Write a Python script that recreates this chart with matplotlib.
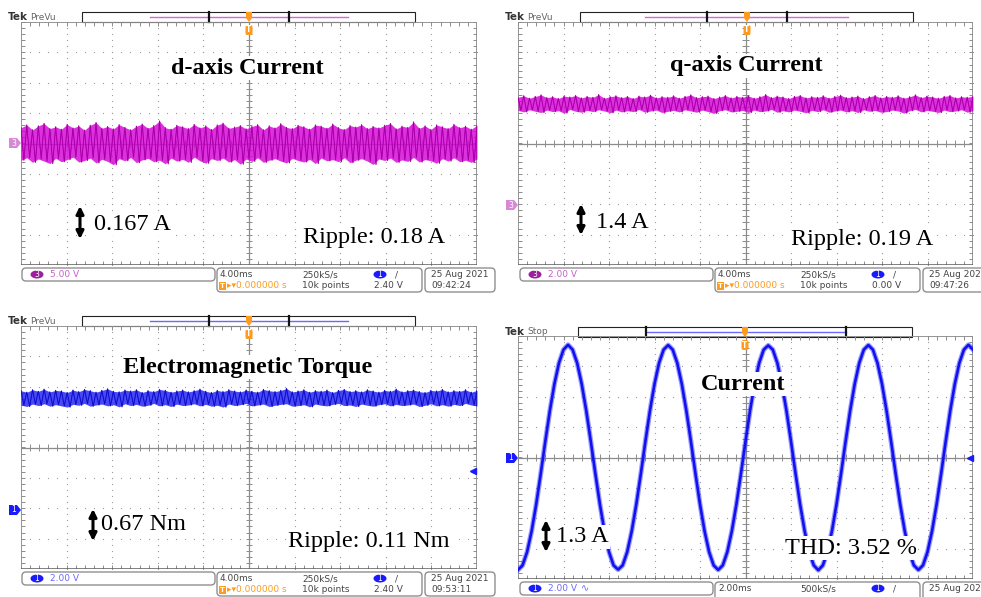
import matplotlib
matplotlib.use('Agg')
import matplotlib.pyplot as plt
import numpy as np
from matplotlib.patches import FancyBboxPatch, Rectangle, Polygon, Ellipse

# ---------------- data (in scope divisions) ----------------
d_level = 0.0
d_upper = [0.52,0.61,0.45,0.58,0.66,0.49,0.55,0.47,0.63,0.51,
           0.58,0.44,0.60,0.69,0.50,0.56,0.48,0.62,0.53,0.45,
           0.57,0.64,0.50,0.59,0.74,0.52,0.47,0.60,0.55,0.49,
           0.63,0.51,0.58,0.46,0.61,0.67,0.50,0.54,0.59,0.48,
           0.56,0.62,0.45,0.58,0.51,0.65,0.53,0.49,0.60,0.55,
           0.47,0.61,0.57,0.50,0.64,0.52,0.46,0.59,0.54,0.62,
           0.49,0.56,0.51,0.60,0.66,0.48,0.57,0.53,0.71,0.50,
           0.58,0.46,0.61,0.55,0.49,0.63,0.52,0.57,0.47,0.60]
d_lower = [-0.55,-0.47,-0.62,-0.51,-0.58,-0.66,-0.49,-0.60,-0.53,-0.45,
           -0.61,-0.56,-0.48,-0.64,-0.52,-0.59,-0.70,-0.50,-0.57,-0.46,
           -0.63,-0.54,-0.49,-0.60,-0.55,-0.67,-0.48,-0.58,-0.52,-0.62,
           -0.45,-0.57,-0.65,-0.50,-0.56,-0.48,-0.61,-0.53,-0.68,-0.51,
           -0.59,-0.47,-0.62,-0.55,-0.50,-0.58,-0.64,-0.49,-0.56,-0.61,
           -0.52,-0.66,-0.48,-0.57,-0.53,-0.60,-0.47,-0.63,-0.55,-0.50,
           -0.58,-0.69,-0.51,-0.56,-0.48,-0.62,-0.54,-0.59,-0.46,-0.61,
           -0.53,-0.57,-0.65,-0.50,-0.58,-0.47,-0.60,-0.55,-0.62,-0.51]

q_level = 1.30
q_upper = [0.22,0.27,0.19,0.25,0.30,0.21,0.24,0.18,0.26,0.23,
           0.28,0.20,0.25,0.22,0.31,0.19,0.24,0.27,0.21,0.25,
           0.18,0.26,0.23,0.29,0.20,0.24,0.22,0.27,0.19,0.25,
           0.30,0.21,0.24,0.26,0.18,0.23,0.28,0.20,0.25,0.22,
           0.27,0.19,0.24,0.31,0.21,0.26,0.23,0.18,0.25,0.28,
           0.20,0.24,0.22,0.27,0.19,0.25,0.29,0.21,0.23,0.26,
           0.18,0.24,0.28,0.20,0.25,0.22,0.27,0.19,0.24,0.30,
           0.21,0.26,0.23,0.19,0.25,0.28,0.20,0.24,0.22,0.26]
q_lower = [-0.21,-0.26,-0.19,-0.24,-0.28,-0.20,-0.25,-0.22,-0.30,-0.18,
           -0.24,-0.27,-0.21,-0.25,-0.19,-0.23,-0.29,-0.20,-0.26,-0.22,
           -0.25,-0.18,-0.27,-0.23,-0.20,-0.28,-0.24,-0.21,-0.26,-0.19,
           -0.23,-0.27,-0.20,-0.25,-0.31,-0.22,-0.19,-0.26,-0.24,-0.21,
           -0.28,-0.20,-0.25,-0.23,-0.18,-0.27,-0.22,-0.26,-0.20,-0.24,
           -0.29,-0.21,-0.25,-0.19,-0.27,-0.23,-0.20,-0.26,-0.22,-0.28,
           -0.19,-0.24,-0.21,-0.27,-0.25,-0.20,-0.23,-0.30,-0.22,-0.18,
           -0.26,-0.21,-0.24,-0.28,-0.20,-0.25,-0.23,-0.19,-0.27,-0.22]

t_level = 1.63
t_upper = [0.24,0.19,0.27,0.22,0.29,0.20,0.25,0.23,0.18,0.26,
           0.21,0.28,0.24,0.19,0.25,0.30,0.22,0.20,0.26,0.23,
           0.27,0.18,0.24,0.21,0.28,0.25,0.19,0.23,0.26,0.20,
           0.24,0.29,0.22,0.18,0.25,0.21,0.27,0.23,0.20,0.26,
           0.22,0.19,0.28,0.24,0.21,0.25,0.31,0.20,0.23,0.27,
           0.19,0.24,0.22,0.26,0.18,0.25,0.28,0.21,0.24,0.20,
           0.27,0.23,0.19,0.25,0.22,0.29,0.20,0.24,0.26,0.21,
           0.18,0.25,0.23,0.28,0.20,0.24,0.22,0.27,0.19,0.25]
t_lower = [-0.23,-0.28,-0.20,-0.25,-0.19,-0.27,-0.22,-0.26,-0.30,-0.21,
           -0.24,-0.18,-0.27,-0.23,-0.20,-0.26,-0.22,-0.29,-0.19,-0.25,
           -0.21,-0.27,-0.24,-0.18,-0.26,-0.22,-0.28,-0.20,-0.25,-0.23,
           -0.19,-0.26,-0.21,-0.27,-0.24,-0.30,-0.20,-0.25,-0.22,-0.18,
           -0.26,-0.23,-0.20,-0.28,-0.24,-0.21,-0.19,-0.27,-0.25,-0.22,
           -0.29,-0.20,-0.24,-0.26,-0.21,-0.18,-0.25,-0.23,-0.28,-0.20,
           -0.24,-0.27,-0.22,-0.19,-0.26,-0.21,-0.25,-0.23,-0.20,-0.28,
           -0.24,-0.19,-0.26,-0.22,-0.27,-0.21,-0.25,-0.18,-0.23,-0.26]

# phase current samples every 0.1 div (2 ms/div)
cur_vals = [-3.70,-3.55,-3.11,-2.42,-1.54,-0.53,0.53,1.54,2.42,3.11,3.55,3.71,3.55,3.11,2.42,1.54,0.53,-0.53,-1.54,-2.42,-3.11,-3.55,
            -3.69,-3.55,-3.11,-2.42,-1.54,-0.53,0.53,1.54,2.42,3.11,3.55,3.70,3.55,3.11,2.42,1.54,0.53,-0.53,-1.54,-2.42,-3.11,-3.55,
            -3.70,-3.55,-3.11,-2.42,-1.54,-0.53,0.53,1.54,2.42,3.11,3.55,3.69,3.55,3.11,2.42,1.54,0.53,-0.53,-1.54,-2.42,-3.11,-3.55,
            -3.71,-3.55,-3.11,-2.42,-1.54,-0.53,0.53,1.54,2.42,3.11,3.55,3.70,3.55,3.11,2.42,1.54,0.53,-0.53,-1.54,-2.42,-3.11,-3.55,
            -3.70,-3.55,-3.11,-2.42,-1.54,-0.53,0.53,1.54,2.42,3.11,3.55,3.71,3.55]

titles = ["d-axis Current", "q-axis Current", "Electromagnetic Torque", "Current"]
amp_labels = ["0.167 A", "1.4 A", "0.67 Nm", "1.3 A"]
stat_labels = ["Ripple: 0.18 A", "Ripple: 0.19 A", "Ripple: 0.11 Nm", "THD: 3.52 %"]

# ---------------- figure ----------------
W, H = 981, 597
fig = plt.figure(figsize=(W/100, H/100), dpi=100)
fig.patch.set_facecolor('white')

def overlay(z):
    a = fig.add_axes([0, 0, 1, 1], zorder=z)
    a.set_xlim(0, W); a.set_ylim(H, 0); a.axis('off'); a.patch.set_alpha(0)
    return a

bg = overlay(0)
fg = overlay(10)

GRID = '#9a9a9a'

def panel(x0, y0, x1, y1):
    ax = fig.add_axes([x0/W, 1-y1/H, (x1-x0)/W, (y1-y0)/H], zorder=5)
    ax.set_xlim(0, 10); ax.set_ylim(-4, 4); ax.axis('off'); ax.patch.set_alpha(0)
    ys = np.arange(-4, 4.001, 0.2)
    xs = np.arange(0, 10.001, 0.2)
    for i in range(1, 10):
        if i != 5:
            ax.scatter(np.full(len(ys), i), ys, s=0.8, color=GRID, lw=0)
    for j in range(-3, 4):
        if j != 0:
            ax.scatter(xs, np.full(len(xs), j), s=0.8, color=GRID, lw=0)
    ax.plot([5, 5], [-4, 4], color='#8c8c8c', lw=0.9)
    ax.plot([0, 10], [0, 0], color='#8c8c8c', lw=0.9)
    ax.hlines(ys, 4.93, 5.07, color='#8c8c8c', lw=0.7)
    ax.vlines(xs, -0.1, 0.1, color='#8c8c8c', lw=0.7)
    ax.hlines(ys, 0, 0.08, color='#8c8c8c', lw=0.7)
    ax.hlines(ys, 9.92, 10, color='#8c8c8c', lw=0.7)
    ax.vlines(xs, 3.88, 4, color='#8c8c8c', lw=0.7)
    ax.vlines(xs, -4, -3.88, color='#8c8c8c', lw=0.7)
    ax.plot([0, 0, 10, 10], [-4, 4, 4, -4], color='#8c8c8c', lw=1.3)
    ax.plot([0, 10], [-4, -4], color='#5a5a5a', lw=1.8)
    return ax

def noise(ax, level, up, lo, face, dark):
    n = len(up)
    x = np.linspace(0, 10, n)
    up = level + np.asarray(up); lo = level + np.asarray(lo)
    ax.fill_between(x, lo, up, color=face, lw=0, alpha=0.8, zorder=3)
    dx = 10/(n-1)
    xz = np.empty(2*n); yz = np.empty(2*n)
    xz[0::2] = x; xz[1::2] = np.minimum(x + dx/2, 10)
    yz[0::2] = up; yz[1::2] = lo
    ax.plot(xz, yz, color=face, lw=0.8, zorder=4)
    ax.plot(xz, yz, color=dark, lw=0.45, alpha=0.6, zorder=5)

def header(x, y, mode, bar0, bar1, d0, d1, line0, line1, lcol, trig):
    bg.text(x, y, 'Tek', fontsize=7.5, fontweight='bold', color='#333333', va='center', ha='left')
    bg.text(x+22, y, mode, fontsize=6.5, color='#666666', va='center', ha='left')
    bg.add_patch(Rectangle((bar0, y-5), bar1-bar0, 10, fill=False, ec='#222222', lw=0.8))
    bg.plot([line0, line1], [y, y], color=lcol, lw=1.0)
    bg.plot([d0, d0], [y-5, y+5], color='#111111', lw=1.6)
    bg.plot([d1, d1], [y-5, y+5], color='#111111', lw=1.6)
    fg.add_patch(Polygon([[trig-3, y-5], [trig+3, y-5], [trig+3, y+1], [trig, y+5], [trig-3, y+1]],
                         closed=True, fc='#ff9a1a', ec='none'))
    fg.add_patch(FancyBboxPatch((trig-3.5, y+8), 7, 10, boxstyle='round,pad=0,rounding_size=2',
                                fc='#ff9a1a', ec='none'))
    fg.text(trig, y+13, 'T', fontsize=5.5, color='white', ha='center', va='center', fontweight='bold')

def badge(x, y, num, col):
    bg.add_patch(Ellipse((x, y), 13, 8, fc=col, ec='none'))
    bg.text(x, y, num, fontsize=5.5, color='white', ha='center', va='center')

def rbox(x0, y0, x1, y1):
    bg.add_patch(FancyBboxPatch((x0, y0), x1-x0, y1-y0, boxstyle='round,pad=0,rounding_size=4',
                                fc='white', ec='#8f8f8f', lw=1.0))

ST = dict(fontsize=6.5, color='#444444', va='center', ha='left')
OR = dict(fontsize=6.5, color='#ff9a1a', va='center', ha='left')

def status(xo, y, ch, chcol, chtxtcol, volts, tb, rate, trigv, date, time_, wave=False, row2=True):
    rbox(xo+22, y, xo+215, y+13)
    badge(xo+37, y+6.5, ch, chcol)
    bg.text(xo+50, y+6.5, volts, fontsize=6.5, color=chtxtcol, va='center', ha='left')
    if wave:
        bg.text(xo+83, y+6.5, '∿', fontsize=7, color=chtxtcol, va='center', ha='left')
    rbox(xo+217, y, xo+422, y+24)
    bg.text(xo+220, y+6.5, tb, **ST)
    bg.text(xo+302, y+6.5, rate, **ST)
    badge(xo+380, y+6.5, '1', '#1a1aff')
    bg.text(xo+395, y+6.5, '/', **ST)
    rbox(xo+425, y, xo+495, y+24)
    bg.text(xo+431, y+6.5, date, **ST)
    if row2:
        bg.add_patch(Rectangle((xo+219, y+14), 7, 8, fc='#ff9a1a', ec='none'))
        bg.text(xo+222.5, y+18, 'T', fontsize=5, color='white', ha='center', va='center', fontweight='bold')
        bg.text(xo+227, y+18, '▸▾0.000000 s', **OR)
        bg.text(xo+302, y+18, '10k points', **ST)
        bg.text(xo+374, y+18, trigv, **ST)
        bg.text(xo+431, y+18, time_, **ST)

def chmark(x, y, num, col):
    bg.add_patch(Polygon([[x-12, y-5], [x-4, y-5], [x, y], [x-4, y+5], [x-12, y+5]], closed=True,
                         fc=col, ec='none'))
    bg.text(x-7, y, num, fontsize=5.5, color='white', ha='center', va='center')

SERIF = 'Liberation Serif'
def title(x, y, s):
    fg.text(x, y, s, fontsize=17.5, fontweight='bold', family=SERIF, ha='center', va='center',
            bbox=dict(fc='white', ec='none', pad=1))
def label(x, y, s, ha='left'):
    fg.text(x, y, s, fontsize=17.5, family=SERIF, ha=ha, va='center',
            bbox=dict(fc='white', ec='none', pad=1))
def dblarrow(x, y0, y1):
    fg.annotate('', xy=(x, y0), xytext=(x, y1),
                arrowprops=dict(arrowstyle='<|-|>', color='black', lw=2.2, mutation_scale=11,
                                shrinkA=0, shrinkB=0))

MAG, MAGD = '#d200d2', '#6e006e'
BLU, BLUD = '#1c1cf2', '#00008a'

# ---- top-left: d-axis current ----
a1 = panel(21, 22, 477, 265)
noise(a1, d_level, d_upper, d_lower, MAG, MAGD)
header(8, 17, 'PreVu', 82, 415, 209, 289, 150, 348, '#e060e0', 249)
chmark(21, 143, '3', '#d68ad6')
status(0, 268, '3', '#9c1f9c', '#c860c8', '5.00 V', '4.00ms', '250kS/s', '2.40 V', '25 Aug 2021', '09:42:24')
title(247, 68, titles[0])
dblarrow(80, 206, 239)
label(94, 224, amp_labels[0])
label(303, 238, stat_labels[0])

# ---- top-right: q-axis current ----
a2 = panel(518, 22, 973, 265)
noise(a2, q_level, q_upper, q_lower, MAG, MAGD)
header(505, 17, 'PreVu', 580, 913, 707, 787, 645, 848, '#e060e0', 747)
chmark(518, 205, '3', '#d68ad6')
status(498, 268, '3', '#9c1f9c', '#c860c8', '2.00 V', '4.00ms', '250kS/s', '0.00 V', '25 Aug 202', '09:47:26')
title(746, 66, titles[1])
dblarrow(581, 204, 235)
label(596, 222, amp_labels[1])
label(791, 240, stat_labels[1])

# ---- bottom-left: torque ----
a3 = panel(21, 326, 477, 569)
noise(a3, t_level, t_upper, t_lower, BLU, BLUD)
header(8, 321, 'PreVu', 82, 415, 209, 289, 150, 348, '#6a6aff', 249)
chmark(21, 510, '1', '#1a1aff')
fg.plot([473], [471], marker='<', ms=4, color='#1a1aff', ls='none')
status(0, 572, '1', '#1a1aff', '#6a6aff', '2.00 V', '4.00ms', '250kS/s', '2.40 V', '25 Aug 2021', '09:53:11')
title(248, 367, titles[2])
dblarrow(93, 509, 541)
label(101, 524, amp_labels[2])
label(288, 542, stat_labels[2])

# ---- bottom-right: phase current ----
a4 = panel(518, 336, 973, 579)
xc = np.linspace(0, 10, len(cur_vals))
a4.plot(xc, cur_vals, color='#3a3aff', lw=3.6, alpha=0.5, zorder=3)
a4.plot(xc, cur_vals, color='#1010f0', lw=1.9, zorder=4)
header(505, 332, 'Stop', 578, 912, 646, 846, 646, 846, '#6a6aff', 745)
chmark(518, 458, '1', '#1a1aff')
fg.plot([970], [458], marker='<', ms=4, color='#1a1aff', ls='none')
status(498, 582, '1', '#1a1aff', '#6a6aff', '2.00 V', '2.00ms', '500kS/s', '0.00 V', '25 Aug 202', '', wave=True, row2=False)
title(743, 384, titles[3])
dblarrow(546, 520, 552)
label(556, 537, amp_labels[3])
label(785, 548, stat_labels[3])

fig.savefig('out.png', dpi=100, facecolor='white')
